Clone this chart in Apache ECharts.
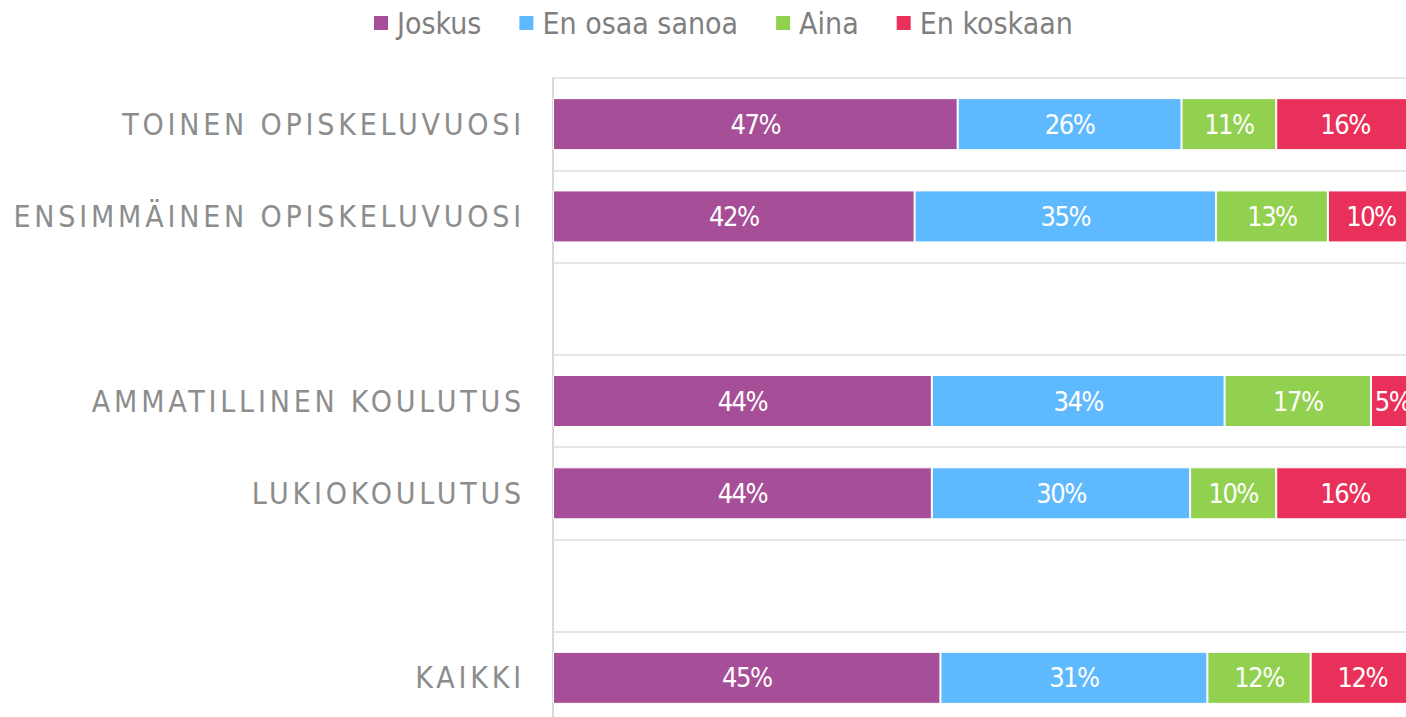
<!DOCTYPE html>
<html>
<head>
<meta charset="utf-8">
<script src="https://cdn.jsdelivr.net/npm/echarts@6/dist/echarts.min.js"></script>
<style>
  html, body { margin: 0; padding: 0; background: #fff; }
  #chart { width: 1406px; height: 717px; }
  /* spaced-out category labels */
  #chart text[fill="#8d8d8d"] { letter-spacing: 3.8px; }
  /* tighter value labels */
  #chart text[fill="#fffffe"] { letter-spacing: -1.5px; }
</style>
</head>
<body>
<div id="chart"></div>
<script>
// categories, top to bottom (blank rows are spacers)
var categories = ['TOINEN OPISKELUVUOSI', 'ENSIMMÄINEN OPISKELUVUOSI', ' ', 'AMMATILLINEN KOULUTUS', 'LUKIOKOULUTUS', '  ', 'KAIKKI'];
var joskus = [47, 42, null, 44, 44, null, 45];
var enOsaaSanoa = [26, 35, null, 34, 30, null, 31];
var aina = [11, 13, null, 17, 10, null, 12];
var enKoskaan = [16, 10, null, 5, 16, null, 12];

var seriesNames = ['Joskus', 'En osaa sanoa', 'Aina', 'En koskaan'];
var seriesData = [joskus, enOsaaSanoa, aina, enKoskaan];
var colors = ['#a64e97', '#5fb9ff', '#92d050', '#e8305a'];

var chart = echarts.init(document.getElementById('chart'), null, {renderer: 'svg'});

var option = {
  animation: false,
  color: colors,
  legend: {
    top: 3,
    left: 367,
    itemWidth: 16,
    itemHeight: 16,
    itemGap: 36,
    icon: 'rect',
    textStyle: {
      color: '#7f7f7f',
      fontSize: 30,
      padding: [0, 0, 0, 3],
      fontFamily: 'Liberation Sans Narrow, DejaVu Sans Condensed, DejaVu Sans'
    },
    data: seriesNames
  },
  grid: {
    left: 553,
    top: 78,
    width: 861,
    height: 646,
    outerBoundsMode: 'none'
  },
  xAxis: {
    type: 'value',
    min: 0,
    max: 100,
    show: false
  },
  yAxis: {
    type: 'category',
    inverse: true,
    data: categories,
    axisTick: {show: false},
    axisLine: {
      show: true,
      lineStyle: {color: '#d9d9d9', width: 2}
    },
    axisLabel: {
      color: '#8d8d8d',
      fontSize: 30,
      margin: 28,
      fontFamily: 'DejaVu Sans Condensed, DejaVu Sans'
    },
    splitLine: {
      show: true,
      lineStyle: {color: '#e6e6e6', width: 2}
    }
  },
  series: seriesNames.map(function (name, i) {
    return {
      name: name,
      type: 'bar',
      stack: 'total',
      barWidth: 52,
      data: seriesData[i],
      itemStyle: {borderColor: '#fff', borderWidth: 1},
      label: {
        show: true,
        position: 'inside',
        color: '#fffffe',
        fontSize: 27,
        fontFamily: 'DejaVu Sans Condensed, DejaVu Sans',
        formatter: '{c}%'
      }
    };
  })
};

chart.setOption(option);
</script>
</body>
</html>
